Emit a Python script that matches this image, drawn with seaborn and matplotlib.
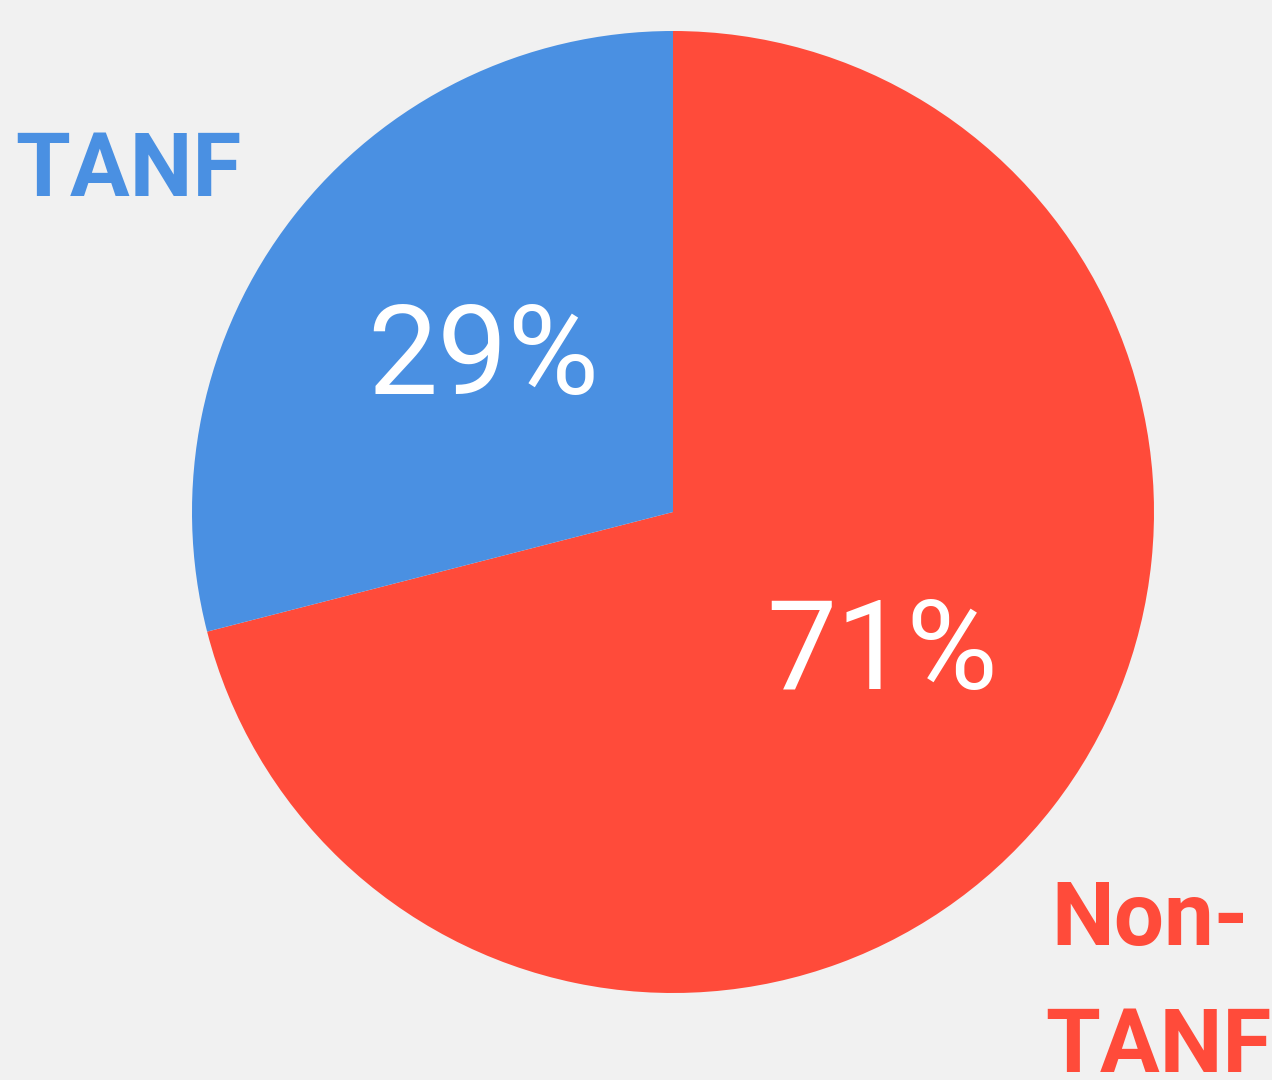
import matplotlib
matplotlib.use('Agg')
import matplotlib.pyplot as plt
import seaborn as sns

# data
labels = ['Non-TANF', 'TANF']
shares = [71, 29]
colors = ['#ff4b3a', '#4a90e2']

sns.set_theme(style='white')
plt.rcParams['font.family'] = ['Roboto', 'DejaVu Sans']

H = 1080

# figure in pixel-like coordinates
fig = plt.figure(figsize=(12.72, 10.8), dpi=100, facecolor='#f1f1f1')
ax = fig.add_axes([0, 0, 1, 1])
ax.set_facecolor('#f1f1f1')

# pie chart
wedges, texts, autotexts = ax.pie(shares, colors=colors, startangle=90, counterclock=False,
                                  center=(673, H - 512), radius=481, autopct='%d%%',
                                  textprops=dict(color='white', fontsize=90))
for w in wedges:
    w.set_linewidth(0)

# place the percentages a bit more exactly
autotexts[0].set_position((882, H - 655))
autotexts[1].set_position((483, H - 360))

# pie() resets the limits, so set them afterwards
ax.set_xlim(0, 1272)
ax.set_ylim(0, H)
ax.set_aspect('equal')
ax.axis('off')

# category labels
ax.text(128, H - 172, labels[1], color=colors[1], fontsize=64, fontweight='bold',
        ha='center', va='center')
ax.text(1150, H - 920, 'Non-', color=colors[0], fontsize=64, fontweight='bold',
        ha='center', va='center')
ax.text(1158, H - 1048, 'TANF', color=colors[0], fontsize=64, fontweight='bold',
        ha='center', va='center')

plt.savefig('out.png', dpi=100, facecolor='#f1f1f1')
